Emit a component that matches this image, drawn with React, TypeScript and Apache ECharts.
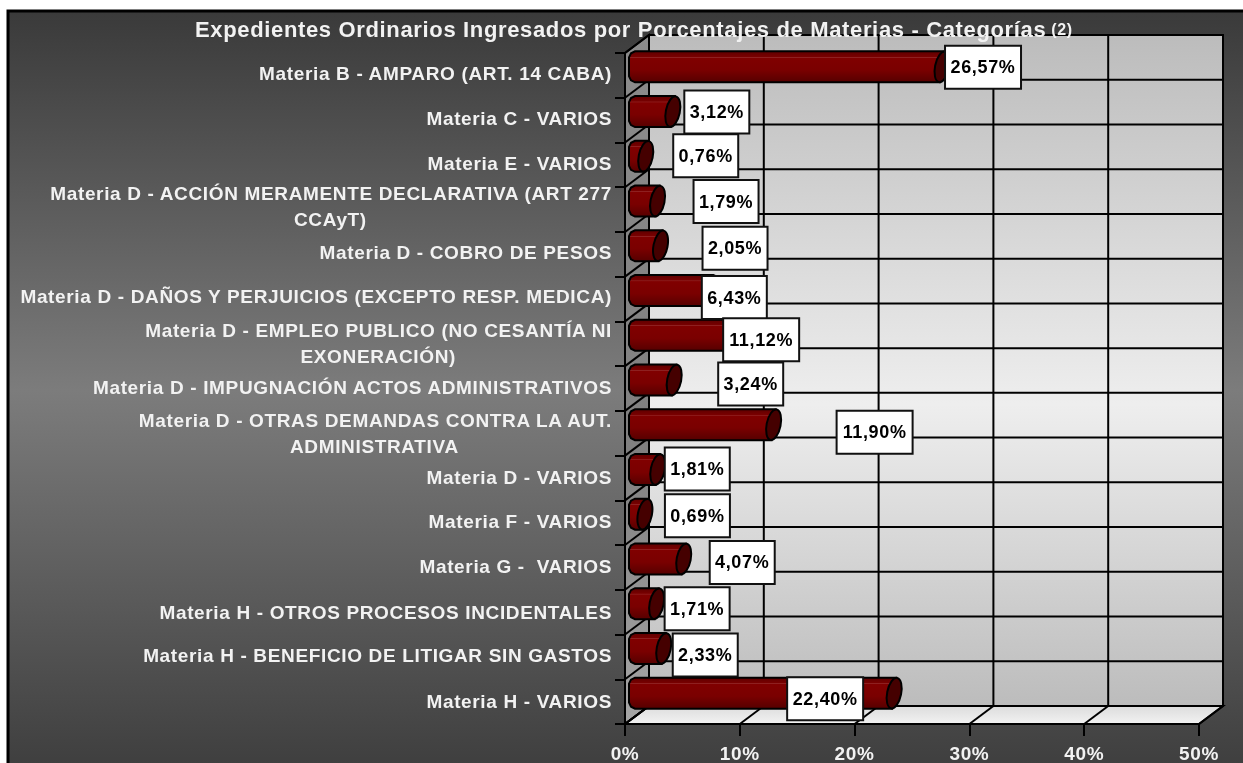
import React, { useEffect, useRef } from "react";
import * as echarts from "echarts";

const titleText = "Expedientes Ordinarios Ingresados por Porcentajes de Materias - Categorías";
const titleNote = "(2)";
const categories = [
  "Materia B - AMPARO (ART. 14 CABA)",
  "Materia C - VARIOS",
  "Materia E - VARIOS",
  "Materia D - ACCIÓN MERAMENTE DECLARATIVA (ART 277\nCCAyT)",
  "Materia D - COBRO DE PESOS",
  "Materia D - DAÑOS Y PERJUICIOS (EXCEPTO RESP. MEDICA)",
  "Materia D - EMPLEO PUBLICO (NO CESANTÍA NI\nEXONERACIÓN)",
  "Materia D - IMPUGNACIÓN ACTOS ADMINISTRATIVOS",
  "Materia D - OTRAS DEMANDAS CONTRA LA AUT.\nADMINISTRATIVA",
  "Materia D - VARIOS",
  "Materia F - VARIOS",
  "Materia G -  VARIOS",
  "Materia H - OTROS PROCESOS INCIDENTALES",
  "Materia H - BENEFICIO DE LITIGAR SIN GASTOS",
  "Materia H - VARIOS",
];
const values = [26.57, 3.12, 0.76, 1.79, 2.05, 6.43, 11.12, 3.24, 11.9, 1.81, 0.69, 4.07, 1.71, 2.33, 22.4];
const xTicks = [0, 10, 20, 30, 40, 50];

// hand-placed data label box centres, as pixel shifts from the end of each bar
const labelShiftX = [41, 44, 60, 68.5, 74.5, 23.5, -3.5, 76.5, 101, 39.5, 52.5, 58.5, 40.5, 41.5, -69];
const labelShiftY = [-6, -6, -7, -6, -4, 0.5, -2, -2.5, 1, -7, -5, -3, -1.5, 0, -1];
// small upward nudges of the category labels
const labelLift = [2, 2, 1, 3, 2, 3, 0, 1, 0, 0, 1, 1, 0, 1, 0];

const FONT = "'Liberation Sans', Arial, sans-serif";
const SPACING = 0.65;
const DX = 24;
const DY = -18;

function buildRich() {
  const base = { color: "#f2f2f2", fontFamily: FONT, fontWeight: "bold", fontSize: 19, lineHeight: 26 };
  const rich: Record<string, any> = {};
  categories.forEach((c, i) => {
    const lines = c.split("\n");
    const b = labelLift[i] * 2;
    rich[`a${i}`] = { ...base, align: "right", padding: [0, 0, b, 0] };
    if (lines.length > 1) {
      rich[`b${i}`] = { ...base, align: "center", padding: [0, lines[0].length * SPACING, b, 0] };
    }
  });
  return rich;
}

function formatCategory(s: string) {
  const i = categories.indexOf(s);
  return s
    .split("\n")
    .map((l, k) => `{${k === 0 ? "a" : "b"}${i}|${l}}`)
    .join("\n");
}

function renderWalls(params: any, api: any) {
  const sys = params.coordSys;
  const n = categories.length;
  const left = sys.x;
  const right = sys.x + sys.width;
  const top = sys.y;
  const bottom = sys.y + sys.height;
  const line = (x1: number, y1: number, x2: number, y2: number) => ({
    type: "line",
    shape: { x1, y1, x2, y2 },
    style: { stroke: "#000", lineWidth: 2, fill: null },
  });
  const children: any[] = [
    {
      type: "rect",
      shape: { x: left + DX, y: top + DY, width: sys.width, height: sys.height },
      style: {
        fill: new echarts.graphic.LinearGradient(0, 0, 0, 1, [
          { offset: 0, color: "#bcbcbc" },
          { offset: 0.55, color: "#eeeeee" },
          { offset: 1, color: "#bcbcbc" },
        ]),
        stroke: "#000",
        lineWidth: 2,
      },
    },
    {
      type: "polygon",
      shape: { points: [[left, top], [left + DX, top + DY], [left + DX, bottom + DY], [left, bottom]] },
      style: {
        fill: new echarts.graphic.LinearGradient(0, 0, 0, 1, [
          { offset: 0, color: "#8c8c8c" },
          { offset: 0.6, color: "#808080" },
          { offset: 1, color: "#a6a6a6" },
        ]),
        stroke: "#000",
        lineWidth: 2,
      },
    },
    {
      type: "polygon",
      shape: { points: [[left, bottom], [left + DX, bottom + DY], [right + DX, bottom + DY], [right, bottom]] },
      style: {
        fill: new echarts.graphic.LinearGradient(0, 0, 0, 1, [
          { offset: 0, color: "#dcdcdc" },
          { offset: 1, color: "#f2f2f2" },
        ]),
        stroke: "#000",
        lineWidth: 2,
      },
    },
  ];
  for (let i = 0; i <= n; i++) {
    const y = top + (i * sys.height) / n;
    children.push(line(left, y, left + DX, y + DY));
    children.push(line(left + DX, y + DY, right + DX, y + DY));
  }
  xTicks.forEach((v) => {
    const x = api.coord([v, 0])[0];
    children.push(line(x, bottom, x + DX, bottom + DY));
    children.push(line(x + DX, bottom + DY, x + DX, top + DY));
  });
  return { type: "group", children };
}

function renderBar(params: any, api: any) {
  const value = api.value(0);
  const p = api.coord([value, api.value(1)]);
  const p0 = api.coord([0, api.value(1)]);
  const x0 = p0[0] + 4;
  const xEnd = p[0] + DX / 2;
  const cy = p[1] + DY / 2 + 0.5;
  const h = 15.5;
  const ch = 6;
  return {
    type: "group",
    children: [
      {
        type: "polygon",
        shape: {
          points: [
            [x0, cy - h + ch],
            [x0 + 2, cy - h + 2],
            [x0 + ch, cy - h],
            [xEnd + 2, cy - h],
            [xEnd - 2, cy + h],
            [x0 + ch, cy + h],
            [x0 + 2, cy + h - 2],
            [x0, cy + h - ch],
          ],
        },
        style: {
          fill: new echarts.graphic.LinearGradient(0, 0, 0, 1, [
            { offset: 0, color: "#5e0000" },
            { offset: 0.17, color: "#780000" },
            { offset: 0.18, color: "#8e2020" },
            { offset: 0.2, color: "#8e2020" },
            { offset: 0.21, color: "#800000" },
            { offset: 0.6, color: "#7a0000" },
            { offset: 1, color: "#560000" },
          ]),
          stroke: "#000",
          lineWidth: 2,
        },
      },
      {
        type: "ellipse",
        x: xEnd,
        y: cy,
        rotation: -0.2,
        shape: { cx: 0, cy: 0, rx: 7, ry: 15.5 },
        style: { fill: "#450000", stroke: "#000", lineWidth: 2 },
      },
    ],
  };
}

function renderLabel(params: any, api: any) {
  const i = params.dataIndex;
  const value = api.value(0);
  const p = api.coord([value, api.value(1)]);
  const cx = p[0] + DX / 2 + labelShiftX[i];
  const cy = p[1] + labelShiftY[i] - 2;
  const text = value.toFixed(2).replace(".", ",") + "%";
  const w = text.length > 5 ? 76 : 65;
  const h = 43;
  return {
    type: "group",
    children: [
      {
        type: "rect",
        shape: { x: cx - w / 2, y: cy - h / 2, width: w, height: h },
        style: { fill: "#fff", stroke: "#111", lineWidth: 2 },
      },
      {
        type: "text",
        style: {
          x: cx,
          y: cy,
          text,
          fill: "#000",
          font: `bold 18px ${FONT}`,
          textAlign: "center",
          textVerticalAlign: "middle",
        },
      },
    ],
  };
}

export default function App() {
  const ref = useRef<HTMLDivElement>(null);
  useEffect(() => {
    const chart = echarts.init(ref.current!, null, { renderer: "svg" });
    const seriesData = values.map((v, i) => [v, i]);
    chart.setOption({
      animation: false,
      title: {
        text: `{a|${titleText}}{b|${titleNote}}`,
        left: 195,
        top: 18,
        padding: 0,
        textStyle: {
          rich: {
            a: {
              color: "#f2f2f2",
              fontFamily: FONT,
              fontWeight: "bold",
              fontSize: 22,
              padding: [0, titleText.length * SPACING + 5, 0, 0],
            },
            b: { color: "#f2f2f2", fontFamily: FONT, fontWeight: "bold", fontSize: 16 },
          },
        },
      },
      graphic: [
        {
          type: "rect",
          z: -10,
          shape: { x: 8, y: 11, width: 1245, height: 760 },
          style: {
            fill: new echarts.graphic.LinearGradient(0, 0, 0, 1, [
              { offset: 0, color: "#3a3a3a" },
              { offset: 0.5, color: "#7c7c7c" },
              { offset: 1, color: "#3e3e3e" },
            ]),
            stroke: "#000",
            lineWidth: 3,
          },
        },
      ],
      grid: { left: 625, right: 44, top: 53, bottom: 37 },
      xAxis: {
        type: "value",
        min: 0,
        max: 50,
        interval: 10,
        z: 2,
        axisLine: { show: true, lineStyle: { color: "#000", width: 2 } },
        axisTick: { show: true, length: 12, lineStyle: { color: "#000", width: 2 } },
        splitLine: { show: false },
        axisLabel: {
          color: "#f2f2f2",
          fontFamily: FONT,
          fontWeight: "bold",
          fontSize: 19,
          margin: 20,
          formatter: "{value}%",
        },
      },
      yAxis: {
        type: "category",
        inverse: true,
        data: categories,
        z: 2,
        axisLine: { show: true, lineStyle: { color: "#000", width: 2 } },
        axisTick: { show: true, length: 10, alignWithLabel: false, lineStyle: { color: "#000", width: 2 } },
        axisLabel: {
          interval: 0,
          margin: 13,
          align: "right",
          verticalAlign: "middle",
          formatter: formatCategory,
          rich: buildRich(),
        },
      },
      series: [
        { type: "custom", name: "walls", z: 1, clip: false, silent: true, data: [[0, 0]], renderItem: renderWalls },
        { type: "custom", name: "Materias", z: 3, clip: false, data: seriesData, encode: { x: 0, y: 1 }, renderItem: renderBar },
        { type: "custom", name: "Etiquetas", z: 4, clip: false, data: seriesData, encode: { x: 0, y: 1 }, renderItem: renderLabel },
      ],
    });
    return () => chart.dispose();
  }, []);
  return (
    <div
      ref={ref}
      style={{ position: "fixed", left: 0, top: 0, width: 1243, height: 763, overflow: "hidden", letterSpacing: SPACING }}
    />
  );
}
